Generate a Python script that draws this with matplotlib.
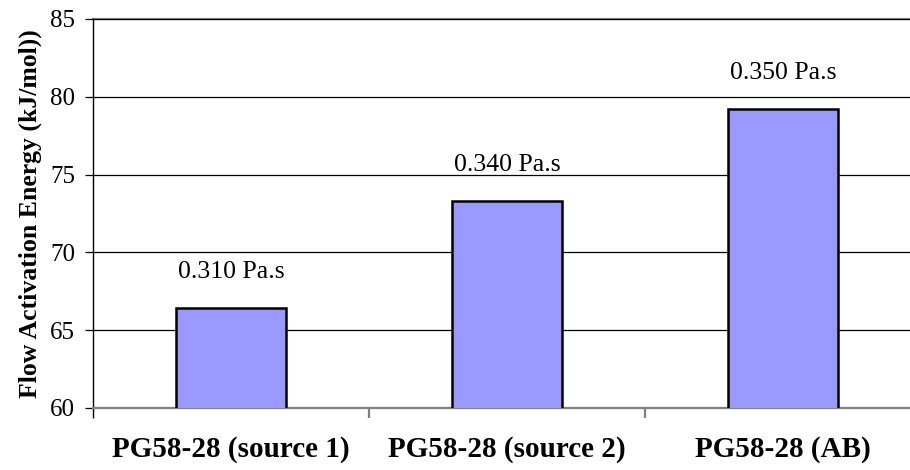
import matplotlib
matplotlib.use("Agg")
import matplotlib.pyplot as plt
from matplotlib.ticker import FixedLocator, NullFormatter

categories = ["PG58-28 (source 1)", "PG58-28 (source 2)", "PG58-28 (AB)"]
activation_energy = [66.4, 73.3, 79.2]
viscosity_labels = ["0.310 Pa.s", "0.340 Pa.s", "0.350 Pa.s"]
y_ticks = [60, 65, 70, 75, 80, 85]

plt.rcParams["font.family"] = ["Liberation Serif", "DejaVu Serif"]

fig = plt.figure(figsize=(9.1, 4.7), dpi=100)
ax = fig.add_axes([93 / 910, (470 - 408) / 470, (921 - 93) / 910, (408 - 19) / 470])

x = list(range(len(categories)))
ax.bar(x, activation_energy, width=0.4, bottom=0, color="#9999FF",
       edgecolor="black", linewidth=1.8, zorder=3)

for xi, val, lab in zip(x, activation_energy, viscosity_labels):
    ax.annotate(lab, (xi, val), xytext=(0, 26), textcoords="offset points",
                ha="center", va="center", fontsize=18.5)

ax.set_xlim(-0.5, len(categories) - 0.5)
ax.set_ylim(60, 85)
ax.set_yticks(y_ticks)
ax.yaxis.grid(True, color="black", linewidth=0.9, zorder=0)
ax.tick_params(axis="y", labelsize=18, length=6, width=0.9, direction="out", pad=7)

# category labels centred, ticks on category boundaries
ax.set_xticks(x)
ax.set_xticklabels(categories, fontsize=21, fontweight="bold")
ax.tick_params(axis="x", which="major", length=0, pad=20)
ax.xaxis.set_minor_locator(FixedLocator([0.5, 1.5]))
ax.xaxis.set_minor_formatter(NullFormatter())
ax.tick_params(axis="x", which="minor", length=7.5, width=1.6, color="#808080",
               direction="out")

ax.set_ylabel("Flow Activation Energy (kJ/mol))", fontsize=18.5, fontweight="bold", labelpad=6)

for side in ("top", "right"):
    ax.spines[side].set_visible(False)
ax.spines["left"].set_linewidth(1.0)
ax.spines["bottom"].set_color("#808080")
ax.spines["bottom"].set_linewidth(1.6)
ax.axhline(85, color="#808080", linewidth=1.6, zorder=1, clip_on=False)
# left axis line carried a little below the plot floor
ax.plot([0, 0], [0, -10 / 389], transform=ax.transAxes, color="black",
        linewidth=1.0, clip_on=False, solid_capstyle="butt")

fig.savefig("out.png", dpi=100)
